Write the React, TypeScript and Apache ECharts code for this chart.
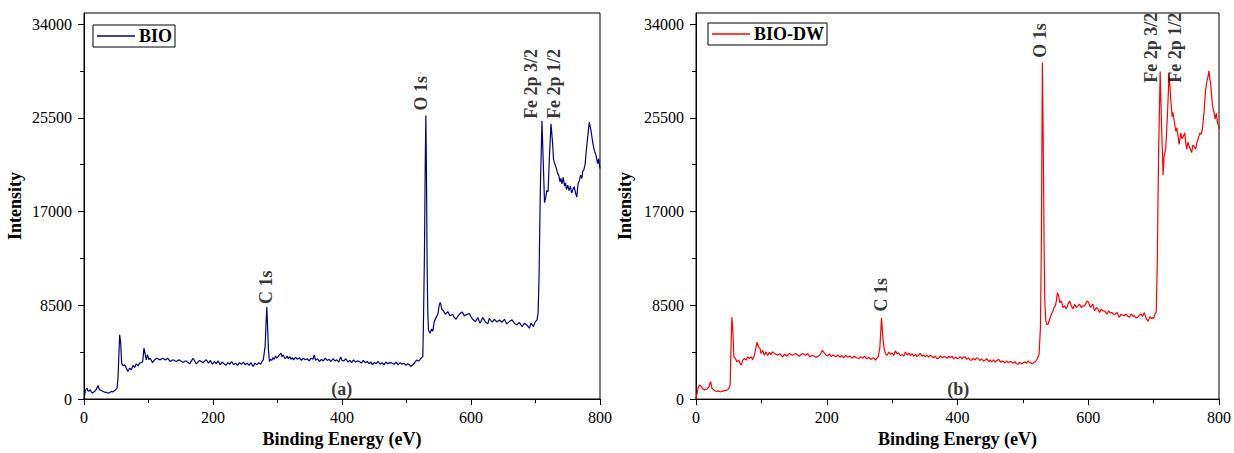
import React, { useEffect, useRef } from 'react';
import * as echarts from 'echarts';

const FONT = '"Liberation Serif", "Times New Roman", Times, serif';

// Binding energy (eV) vs intensity, panel (a) BIO
const bioData: [number, number][] = [
  [0, 0], [1.5, 500], [2.6, 840], [4.7, 990], [6, 750], [7.3, 690], [9.9, 840], [11.5, 620], [13, 540], [15, 640],
  [16.6, 690], [19.2, 900], [21.7, 1230], [23, 980], [24.3, 840], [27.4, 750], [30, 680], [32, 620], [34.7, 600], [36.5, 560],
  [38.8, 540], [40.5, 610], [42.4, 690], [44.5, 640], [46.5, 720], [49.1, 840], [51.2, 990], [52.7, 1890], [54.3, 4290], [55.3, 5820],
  [56.9, 5060], [58.4, 3250], [60.5, 3010], [63.1, 3100], [65.6, 2800], [68.2, 2500], [70.8, 2800], [73.4, 2650], [76, 3040], [78.5, 2860],
  [81.1, 3190], [83.7, 3010], [86.3, 3250], [89.4, 3310], [91, 3400], [93, 4610], [94.6, 4160], [96.6, 3550], [98.2, 4010], [100.8, 3560],
  [102.8, 3700], [106, 3310], [109.5, 3550], [113.1, 3700], [117.3, 3550], [122.4, 3700], [126, 3530], [129.5, 3700], [133.8, 3400], [138, 3560],
  [143.1, 3400], [147.5, 3560], [153.4, 3310], [158, 3460], [163.8, 3190], [169, 3700], [174.1, 3190], [179.3, 3500], [184, 3300], [189.6, 3550],
  [193, 3250], [196, 3500], [199, 3150], [202, 3400], [205, 3200], [208, 3450], [211, 3100], [214, 3350], [217, 3200], [220, 3050],
  [223, 3300], [226, 3150], [229, 3400], [232, 3100], [235, 3250], [238, 3050], [241, 3300], [244, 3150], [247, 3350], [250, 3100],
  [253, 3250], [256, 3050], [259, 3300], [262, 2950], [265, 3250], [268, 3100], [271, 3300], [274, 3150], [276, 3400], [278, 3550],
  [280.8, 4770], [282, 6500], [283.4, 8350], [284.5, 6800], [286, 4460], [287.5, 3400], [289, 3600], [291, 3500], [293, 3750], [295, 3600],
  [297, 3900], [299, 3700], [301, 3850], [303, 4000], [305.5, 4160], [307, 3850], [309, 4000], [311, 3700], [313, 3700], [315, 3900],
  [317, 3650], [319, 3850], [321, 3600], [323, 3750], [325, 3550], [328, 3800], [331, 3600], [334, 3750], [337, 3500], [340, 3700],
  [343, 3550], [346, 3650], [349, 3450], [352, 3700], [355, 3600], [357, 4000], [359, 3500], [362, 3650], [365, 3400], [368, 3600],
  [371, 3450], [374, 3700], [377, 3500], [380, 3600], [383, 3400], [386, 3650], [389, 3450], [392, 3550], [395, 3350], [398, 3800],
  [400, 3500], [403, 3450], [406, 3650], [409, 3350], [412, 3500], [415, 3300], [418, 3550], [421, 3350], [424, 3450], [427, 3400],
  [430, 3250], [433, 3500], [436, 3300], [439, 3400], [442, 3200], [445, 3350], [447, 3100], [450, 3300], [453, 3200], [456, 3400],
  [459, 3150], [462, 3300], [465, 3100], [468, 3350], [471, 3200], [474, 3300], [478, 3250], [481, 3150], [484, 3350], [487, 3100],
  [490, 3300], [493, 3150], [496, 3250], [499, 3050], [502, 3200], [504.6, 3100], [507, 2950], [508.7, 3050], [510.5, 3150], [512.3, 3250],
  [514, 3400], [516, 3550], [518, 3450], [520, 3490], [522.7, 3700], [525.3, 3840], [526.3, 7000], [527.8, 13000], [529, 21000], [530, 25700],
  [531, 20000], [532, 12000], [533, 8000], [534, 6270], [535.3, 6100], [536.6, 5970], [538.7, 6330], [540.7, 6150], [543.3, 7080], [545.9, 7380],
  [548.5, 7680], [551, 8590], [552.6, 8740], [554.7, 8140], [557.3, 7990], [560.4, 7680], [564, 7930], [567.6, 7540], [571.7, 7680], [574, 7400],
  [576.9, 7230], [579.5, 7500], [582, 7680], [586.2, 7900], [589.8, 7540], [593.4, 7680], [597.6, 7750], [600, 7450], [602.7, 7230], [606.8, 7020],
  [610.5, 7380], [614, 6870], [618.2, 7380], [622.3, 6990], [626, 6810], [628.5, 7320], [632.7, 6960], [636.3, 7230], [639.9, 6990], [644, 7170],
  [648.2, 6960], [651.8, 7230], [655.4, 6810], [659.5, 7020], [663.6, 7180], [667.3, 6870], [670.9, 6720], [675, 6930], [679.1, 6570], [682.8, 6870],
  [686.4, 6720], [690.5, 6420], [693.1, 6870], [696.7, 6570], [699.8, 7020], [702.4, 7180], [704, 7800], [705.5, 11000], [707.5, 19000], [710, 25200],
  [712, 21500], [714, 17800], [716, 18300], [717.5, 18900], [719.5, 18800], [721.5, 21800], [724, 24950], [726.5, 23200], [728, 21700], [730, 21300],
  [732, 21000], [734, 20500], [736, 20300], [738, 19700], [739.5, 20000], [741, 19500], [743, 20100], [745, 19300], [746.5, 19600], [748, 19000],
  [750, 19400], [752, 18900], [754, 19300], [756, 18700], [758, 19000], [760, 19250], [762, 18700], [764, 18300], [766, 19500], [768, 19800],
  [770, 20300], [772, 20000], [773, 20600], [775, 20800], [777, 21300], [778.3, 22240], [780.9, 23750], [783.4, 25100], [786, 24350], [788.6, 23300],
  [791.2, 22540], [793.8, 22090], [796.4, 21340], [797.9, 21790], [800, 20900],
];

// panel (b) BIO-DW
const bioDwData: [number, number][] = [
  [0, 0], [1.5, 500], [3.1, 990], [5.6, 1290], [8.2, 1140], [10.7, 900], [13.2, 840], [15, 880], [16.8, 900], [19.8, 1140],
  [22.4, 1590], [24.4, 990], [26.9, 840], [29, 760], [31, 690], [33, 740], [35.1, 720], [36.8, 660], [38.6, 690], [40.5, 740],
  [42.2, 720], [44, 800], [46.2, 780], [48.5, 850], [50.3, 990], [52.3, 1290], [53.3, 4130], [54.9, 7410], [56.4, 6220], [57.9, 3830],
  [60.4, 3680], [62.5, 3380], [65.5, 3530], [67.5, 3230], [69.1, 3080], [71.6, 3530], [74.1, 3680], [76.7, 3530], [79.2, 3830], [81.8, 3680],
  [84.3, 3830], [86.8, 3580], [89.4, 3980], [91.9, 4720], [93.4, 5170], [95.5, 4720], [98, 4570], [99.5, 4130], [102, 4420], [104.6, 3980],
  [107.1, 4280], [109.7, 3950], [112.2, 4250], [114.7, 4030], [117.3, 4280], [121, 4100], [124.9, 3980], [128.5, 4130], [132.5, 3830], [135.5, 4070],
  [138.6, 3890], [143, 4130], [147.7, 3980], [152.5, 4130], [157.9, 3890], [163, 4130], [168, 3980], [171, 4130], [174.1, 3830], [178, 3980],
  [183.3, 3800], [187.3, 3890], [190, 4050], [193.4, 4420], [196, 4200], [198.5, 4000], [201, 3900], [204, 4100], [207, 3850], [210, 4000],
  [213.7, 3830], [217, 4000], [220, 3800], [223, 3950], [226, 3750], [229, 3980], [232, 3800], [235, 3900], [239, 3730], [242, 3900],
  [245, 3750], [249.3, 3680], [252, 3850], [255, 3700], [258, 3900], [261, 3650], [264, 3800], [267, 3600], [269.6, 3680], [272, 3750],
  [274.6, 3530], [276.5, 3700], [278.7, 3830], [281.2, 4650], [283.8, 7350], [285.8, 5600], [287.8, 4570], [289.9, 4100], [292.4, 3980], [295, 4270],
  [297.5, 4050], [300, 4180], [302.5, 3950], [305, 4370], [307.5, 4100], [310, 4200], [312.5, 3950], [315.2, 4030], [318, 3900], [320.3, 4270],
  [323, 4000], [326, 4150], [328, 3950], [330.5, 4130], [333, 3900], [336, 4050], [338, 3850], [340.6, 3980], [343, 4150], [346, 3900],
  [348, 4000], [350.8, 3830], [353, 3980], [356, 3800], [358, 3950], [360.9, 3890], [363, 3750], [366, 3900], [368, 3700], [371.1, 3690],
  [374, 3900], [377, 3750], [379, 3850], [381.2, 3830], [384, 3700], [387, 3900], [389, 3750], [391.4, 3890], [394, 3650], [397, 3800],
  [399, 3700], [401.5, 3690], [404, 3850], [407, 3650], [409, 3800], [411.7, 3830], [414, 3600], [417, 3750], [419, 3550], [421.8, 3530],
  [424, 3700], [427, 3550], [429, 3750], [432, 3680], [434, 3500], [437, 3650], [440, 3450], [442.1, 3530], [445, 3650], [448, 3400],
  [450, 3550], [452.3, 3380], [455, 3550], [458, 3350], [460, 3500], [463, 3600], [466, 3350], [469, 3450], [472.5, 3290], [475, 3450],
  [478, 3300], [480, 3400], [482.7, 3380], [485, 3250], [488, 3400], [490, 3200], [492.9, 3140], [495, 3350], [498, 3200], [500.5, 3300],
  [503, 3380], [505.5, 3250], [508.1, 3470], [510, 3300], [512.2, 3290], [514, 3200], [515.7, 3230], [517.5, 3350], [519.3, 3380], [522.3, 3680],
  [524.8, 4060], [526.9, 6500], [528.4, 15000], [529.8, 30500], [531, 24000], [532.5, 14000], [533.5, 8900], [535, 7110], [536.5, 6750], [538.6, 6810],
  [541.1, 7260], [543.6, 7710], [546.2, 8000], [547.7, 8300], [549.7, 8450], [551.2, 8900], [552.8, 9650], [554.8, 9350], [556.3, 8760], [558.9, 8900],
  [561.4, 8300], [563.9, 8450], [566.5, 8160], [569, 8610], [571.5, 8900], [574, 8450], [576.6, 8160], [579.2, 8610], [581.5, 8300], [584.2, 8450],
  [586.5, 8610], [589.3, 8300], [592, 8450], [594.4, 8450], [596.5, 8700], [598.4, 8900], [600.5, 8760], [603.5, 8300], [607, 8610], [609.6, 8000],
  [612.5, 8300], [615, 8150], [617.2, 7860], [620, 8160], [622, 8000], [624.8, 8000], [627, 7850], [628.9, 7710], [631, 8000], [634, 7800],
  [636, 7860], [638, 7700], [641, 7710], [644.1, 7860], [646, 7600], [647.7, 7410], [650, 7700], [652.5, 7600], [655.3, 7560], [658, 7710],
  [660.5, 7500], [662.9, 7410], [664.5, 7600], [666.4, 7710], [668.5, 7500], [670.5, 7560], [673, 7350], [675.6, 7410], [678, 7600], [680.7, 7710],
  [683, 7500], [685.7, 7860], [688, 7400], [690, 7200], [691.8, 7050], [693.5, 7400], [694.9, 7460], [696.5, 7300], [698.4, 7410], [700, 7300],
  [702, 7710], [704, 7900], [705.5, 12000], [707.5, 22000], [710, 29700], [712, 25000], [714.5, 20300], [716, 22000], [718.5, 22700], [721, 25600],
  [723.7, 29500], [726.3, 27100], [728.3, 25600], [729.5, 26000], [731.3, 25300], [733.9, 24280], [735.5, 24600], [737.4, 23840], [739, 23090], [741.5, 24130],
  [743.5, 23600], [745.5, 23840], [747.6, 24130], [749, 23300], [750.6, 22650], [752.5, 23300], [754.2, 22950], [756, 22700], [758.2, 22350], [760, 23000],
  [761.8, 22950], [764.3, 22650], [766, 23200], [767.9, 23540], [770.9, 24130], [772.5, 24000], [774.5, 24430], [777, 25930], [779.5, 28020], [781.5, 28800],
  [783.1, 29220], [784.6, 29750], [786, 29000], [787.2, 28620], [789.7, 26830], [791, 26300], [792.2, 26080], [794, 25400], [794.8, 25630], [796, 25900],
  [797.3, 25180], [799.3, 24730], [800, 24500],
];

const yTickValues = [0, 8500, 17000, 25500, 34000];
const yMinorTickValues = [4250, 12750, 21250, 29750];
const seriesNames = ['BIO', 'BIO-DW'];
const seriesColors = ['#000080', '#ff0000'];

// peak annotations: [label, binding energy, intensity at label foot]
const bioPeaks: [string, number, number][] = [
  ['C 1s', 281.7, 8620],
  ['O 1s', 523, 26150],
  ['Fe 2p 3/2', 693.3, 25400],
  ['Fe 2p 1/2', 728.9, 25400],
];
const bioDwPeaks: [string, number, number][] = [
  ['C 1s', 283.2, 7950],
  ['O 1s', 525.9, 30950],
  ['Fe 2p 3/2', 695.8, 28670],
  ['Fe 2p 1/2', 733.3, 28670],
];
const panelTags: [string, number, number][] = [
  ['(a)', 399.8, 900],
  ['(b)', 401.3, 900],
];

export default function App() {
  const ref = useRef<HTMLDivElement>(null);

  useEffect(() => {
    const chart = echarts.init(ref.current!, null, { renderer: 'svg' });

    const grids = [
      { left: 84, top: 13, width: 516, height: 386 },
      { left: 696, top: 13, width: 525, height: 390 },
    ];

    const xAxis = grids.map((_, i) => ({
      type: 'value',
      gridIndex: i,
      min: 0,
      max: 800,
      interval: 200,
      name: 'Binding Energy (eV)',
      nameLocation: 'middle',
      nameGap: i === 0 ? 31 : 29,
      nameTextStyle: { fontFamily: FONT, fontWeight: 'bold', fontSize: 18, color: '#000' },
      axisLine: { show: true, onZero: false, lineStyle: { color: '#000', width: 1 } },
      axisTick: { show: true, length: 6, lineStyle: { color: '#000', width: 1 } },
      minorTick: { show: true, splitNumber: 2, length: 4, lineStyle: { color: '#000', width: 1 } },
      axisLabel: { fontFamily: FONT, fontSize: 16, color: '#000', margin: 10, formatter: (v: number) => String(v) },
      splitLine: { show: false },
      minorSplitLine: { show: false },
    }));

    const yAxis: any[] = [];
    grids.forEach((_, i) => {
      yAxis.push({
        type: 'value',
        gridIndex: i,
        position: 'left',
        min: 0,
        max: 35000,
        name: 'Intensity',
        nameLocation: 'middle',
        nameGap: i === 0 ? 60 : 62,
        nameRotate: 90,
        nameTextStyle: { fontFamily: FONT, fontWeight: 'bold', fontSize: 18, color: '#000' },
        axisLine: { show: true, onZero: false, lineStyle: { color: '#000', width: 1 } },
        axisTick: { show: true, length: 6, customValues: yTickValues, lineStyle: { color: '#000', width: 1 } },
        axisLabel: {
          customValues: yTickValues,
          fontFamily: FONT,
          fontSize: 16,
          color: '#000',
          margin: 12,
          formatter: (v: number) => String(v),
        },
        splitLine: { show: false },
      });
      yAxis.push({
        type: 'value',
        gridIndex: i,
        position: 'left',
        min: 0,
        max: 35000,
        axisLine: { show: false },
        axisTick: { show: true, length: 4, customValues: yMinorTickValues, lineStyle: { color: '#000', width: 1 } },
        axisLabel: { show: false },
        splitLine: { show: false },
      });
    });

    const peakItems = (peaks: [string, number, number][]) =>
      peaks.map(([name, x, y]) => ({
        value: [x, y],
        name,
        label: {
          show: true,
          formatter: name,
          rotate: 90,
          position: 'top',
          distance: 0,
          align: 'left',
          verticalAlign: 'middle',
          fontFamily: FONT,
          fontWeight: 'bold',
          fontSize: 18,
          color: '#000',
        },
      }));

    const tagItem = (t: [string, number, number]) => ({
      value: [t[1], t[2]],
      name: t[0],
      label: {
        show: true,
        formatter: t[0],
        position: 'inside',
        fontFamily: FONT,
        fontWeight: 'bold',
        fontSize: 18,
        color: '#000',
      },
    });

    const datasets = [bioData, bioDwData];
    const peakSets = [bioPeaks, bioDwPeaks];

    const series: any[] = [];
    datasets.forEach((data, i) => {
      series.push({
        type: 'line',
        name: seriesNames[i],
        xAxisIndex: i,
        yAxisIndex: i * 2,
        data,
        showSymbol: false,
        symbol: 'none',
        lineStyle: { color: seriesColors[i], width: 1.2 },
        itemStyle: { color: seriesColors[i] },
        color: seriesColors[i],
        z: 3,
      });
      series.push({
        type: 'scatter',
        name: 'annot' + i,
        xAxisIndex: i,
        yAxisIndex: i * 2,
        symbolSize: 0,
        silent: true,
        clip: false,
        data: [...peakItems(peakSets[i]), tagItem(panelTags[i])],
        z: 5,
      });
    });

    const legendCommon = {
      orient: 'horizontal',
      borderColor: '#000',
      borderWidth: 1,
      padding: [2, 3, 2, 4],
      itemWidth: 38,
      itemHeight: 1.5,
      itemGap: 5,
      textStyle: { fontFamily: FONT, fontWeight: 'bold', fontSize: 18, color: '#000', padding: [0, 0, 0, -1] },
      selectedMode: false,
    };

    const option: any = {
      animation: false,
      backgroundColor: '#ffffff',
      grid: grids.map((g) => ({
        ...g,
        show: true,
        borderColor: '#000',
        borderWidth: 1,
        backgroundColor: 'transparent',
        containLabel: false,
      })),
      legend: [
        { ...legendCommon, data: [{ name: seriesNames[0], icon: 'rect' }], left: 93, top: 25 },
        { ...legendCommon, data: [{ name: seriesNames[1], icon: 'rect' }], left: 708, top: 23 },
      ],
      xAxis,
      yAxis,
      series,
    };

    chart.setOption(option);
    return () => chart.dispose();
  }, []);

  return (
    <div
      ref={ref}
      style={{ position: 'fixed', left: 0, top: 0, width: 1234, height: 453, background: '#fff' }}
    />
  );
}
